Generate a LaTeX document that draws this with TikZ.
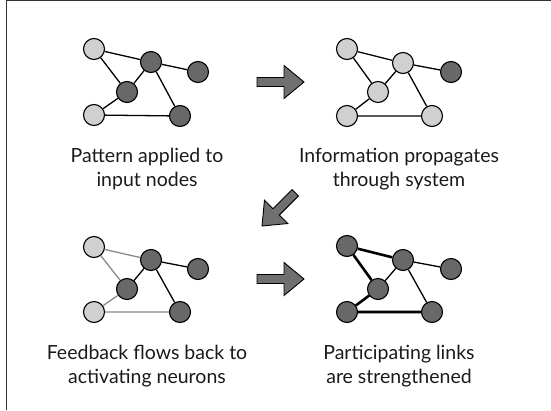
\documentclass[tikz,border=0pt]{standalone}
\usepackage{fontspec}
\setmainfont{Lato}
\definecolor{lightc}{HTML}{D0D0D0}
\definecolor{darkc}{HTML}{686868}
\definecolor{arrc}{HTML}{707070}
\definecolor{grayedge}{HTML}{8A8A8A}
\definecolor{txtc}{HTML}{1A1A1A}
\begin{document}
\begin{tikzpicture}[x=1pt,y=-1pt,
  nd/.style={circle,draw=black,line width=1.1pt,minimum size=21pt,inner sep=0pt},
  lt/.style={nd,fill=lightc},
  dk/.style={nd,fill=darkc},
  ed/.style={line width=1.3pt,draw=black},
  ged/.style={line width=1.3pt,draw=grayedge},
  ted/.style={line width=2.6pt,draw=black},
  lbl/.style={anchor=base,text=txtc,font=\fontsize{19.5}{23}\selectfont,inner sep=0pt},
  blockarrow/.pic={\draw[fill=arrc,draw=black,line width=0.9pt,line join=miter]
     (-47,-4.5) -- (-20,-4.5) -- (-20,-16.5) -- (0,0) -- (-20,16.5) -- (-20,4.5) -- (-47,4.5) -- cycle;}
]
\useasboundingbox (0,0) rectangle (551,410);
\draw[line width=1.2pt,draw=black!80] (6.5,410) -- (6.5,0.6) -- (551,0.6);

% Panel 1
\node[lt] (a1) at (94,49) {};
\node[dk] (b1) at (151,62) {};
\node[dk] (c1) at (198,72) {};
\node[dk] (d1) at (127,92) {};
\node[lt] (e1) at (94,115) {};
\node[dk] (f1) at (180,116) {};
\draw[ed] (a1) -- (b1) (a1) -- (d1) (b1) -- (c1) (b1) -- (d1) (b1) -- (f1) (d1) -- (e1) (e1) -- (f1);

% Panel 2
\node[lt] (a2) at (347,49) {};
\node[lt] (b2) at (403,63) {};
\node[dk] (c2) at (451,72) {};
\node[lt] (d2) at (378,92) {};
\node[lt] (e2) at (347,116) {};
\node[lt] (f2) at (432,116) {};
\draw[ed] (a2) -- (b2) (a2) -- (d2) (b2) -- (c2) (b2) -- (d2) (b2) -- (f2) (d2) -- (e2) (e2) -- (f2);

% Panel 3
\node[lt] (a3) at (94,247) {};
\node[dk] (b3) at (151,260) {};
\node[dk] (c3) at (198,269) {};
\node[dk] (d3) at (127,289) {};
\node[lt] (e3) at (94,312) {};
\node[dk] (f3) at (180,312) {};
\draw[ged] (a3) -- (b3) (a3) -- (d3) (d3) -- (e3) (e3) -- (f3);
\draw[ed] (b3) -- (c3) (b3) -- (d3) (b3) -- (f3);

% Panel 4
\node[dk] (a4) at (347,246) {};
\node[dk] (b4) at (403,260) {};
\node[dk] (c4) at (451,269) {};
\node[dk] (d4) at (378,289) {};
\node[dk] (e4) at (347,312) {};
\node[dk] (f4) at (432,312) {};
\draw[ted] (a4) -- (b4) (a4) -- (d4) (d4) -- (e4) (e4) -- (f4);
\draw[ed] (b4) -- (c4) (b4) -- (d4) (b4) -- (f4);

% Block arrows
\pic at (304,82) {blockarrow};
\pic at (304,279) {blockarrow};
\pic[rotate=225] at (262,226) {blockarrow};

% Labels
\node[lbl] (t1a) at (147,162) {Pattern applied to};
\node[lbl] (t1b) at (147,186) {input nodes};
\node[lbl] (t2a) at (399,162) {Information propagates};
\node[lbl] (t2b) at (399,186) {through system};
\node[lbl] (t3a) at (147,359) {Feedback flows back to};
\node[lbl] (t3b) at (147,383) {activating neurons};
\node[lbl] (t4a) at (399,359) {Participating links};
\node[lbl] (t4b) at (399,383) {are strengthened};
\end{tikzpicture}
\end{document}
